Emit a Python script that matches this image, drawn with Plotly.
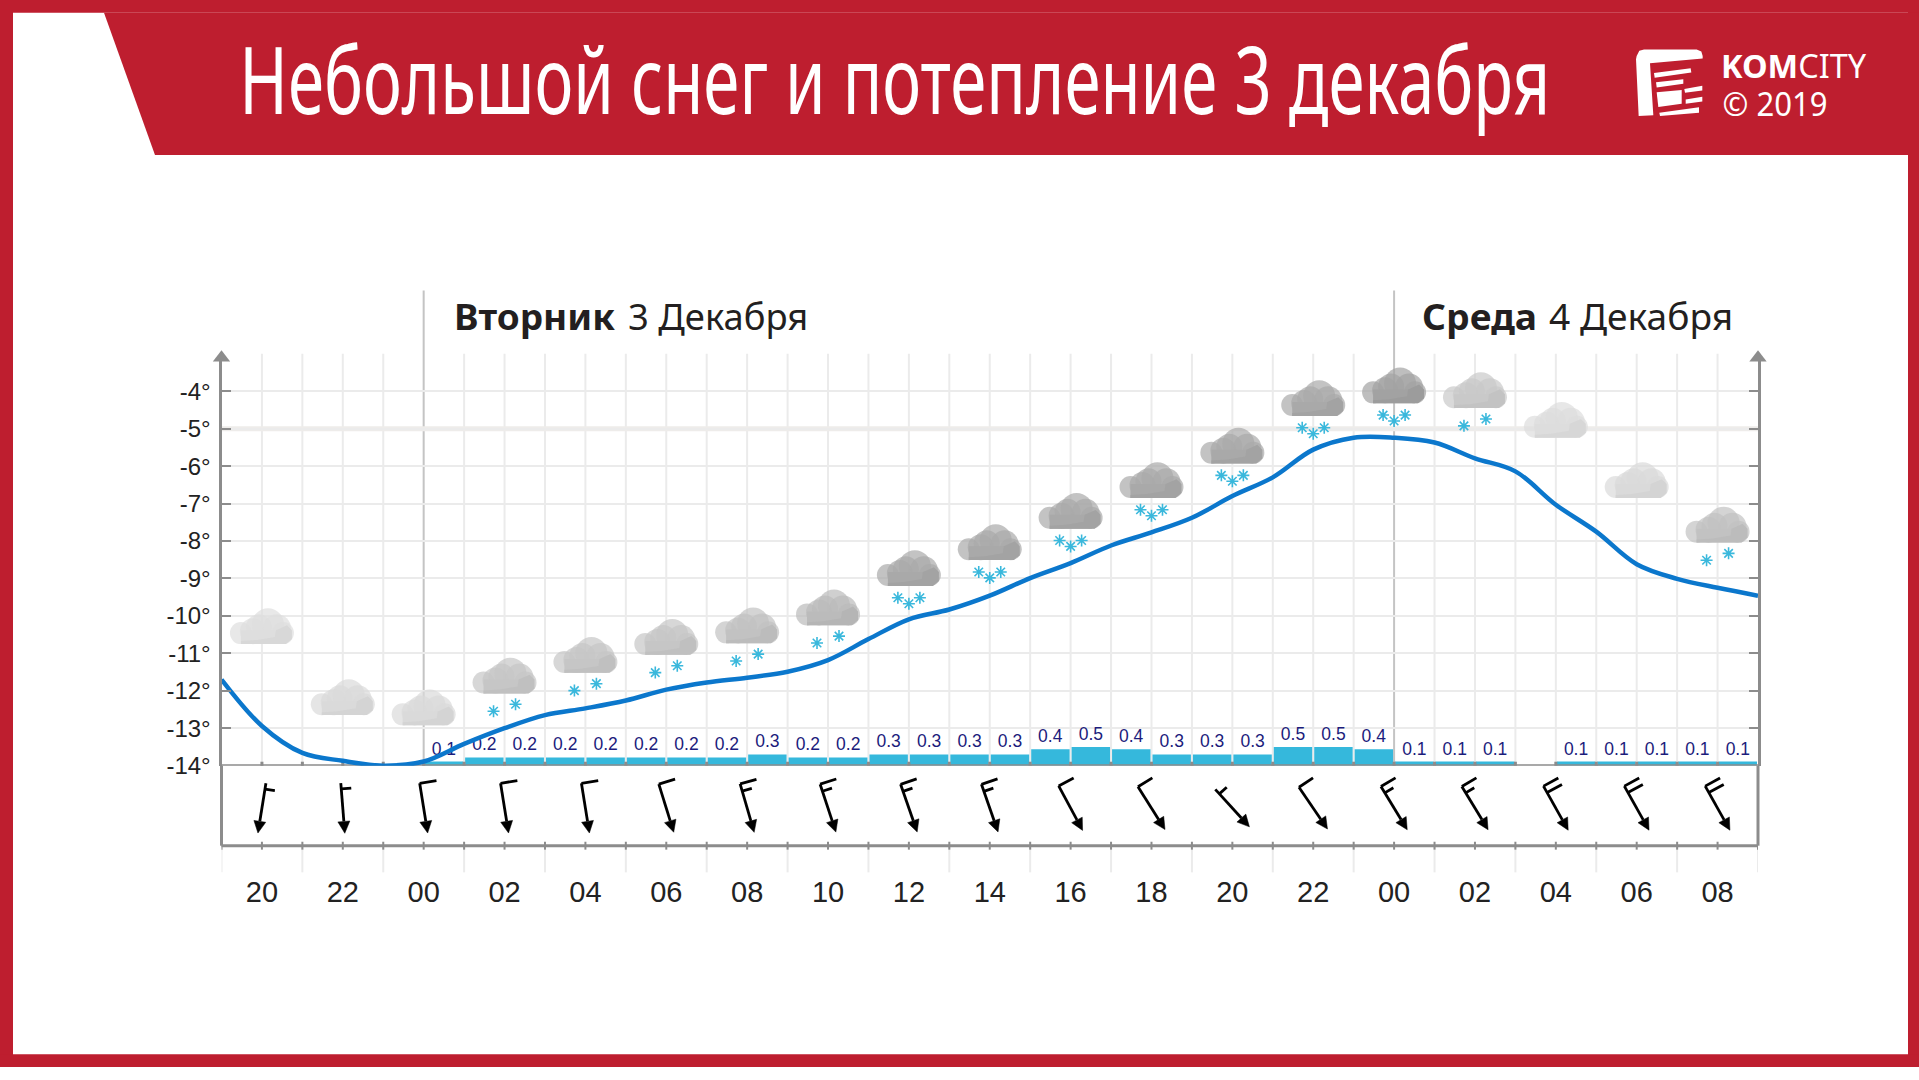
import json
import math
import plotly.graph_objects as go

W, H = 1919, 1080
RED = "#be1e2f"
AXIS = "#8c8c8c"
GRID = "#ebebeb"

# ---- data ----
temp_hours = list(range(19, 58))
temp_values = [-11.70, -12.94, -13.66, -13.87, -14.0, -13.89, -13.42, -13.0, -12.65, -12.47,
               -12.26, -11.97, -11.78, -11.65, -11.49, -11.18, -10.62, -10.09, -9.83, -9.46,
               -8.99, -8.59, -8.12, -7.77, -7.38, -6.80, -6.30, -5.56, -5.24, -5.24,
               -5.37, -5.79, -6.14, -7.03, -7.75, -8.62, -9.01, -9.25, -9.46]

precip_hours = [h + 0.5 for h in range(24, 57)]
precip_labels = ["0.1", "0.2", "0.2", "0.2", "0.2", "0.2", "0.2", "0.2", "0.3", "0.2", "0.2",
                 "0.3", "0.3", "0.3", "0.3", "0.4", "0.5", "0.4", "0.3", "0.3", "0.3",
                 "0.5", "0.5", "0.4", "0.1", "0.1", "0.1", "", "0.1", "0.1", "0.1", "0.1", "0.1"]
precip_bars = [0.11, 0.22, 0.22, 0.22, 0.22, 0.22, 0.22, 0.22, 0.30, 0.22, 0.22,
               0.30, 0.30, 0.30, 0.30, 0.44, 0.50, 0.44, 0.30, 0.30, 0.30,
               0.50, 0.50, 0.44, 0.11, 0.11, 0.11, 0, 0.11, 0.11, 0.11, 0.11, 0.11]

label_hours = list(range(20, 57, 2))
label_text = ["20", "22", "00", "02", "04", "06", "08", "10", "12", "14", "16", "18", "20", "22",
              "00", "02", "04", "06", "08"]
# level of each cloud's base on the temperature scale
cloud_base = [-10.75, -12.65, -12.92, -12.07, -11.52, -11.04, -10.73, -10.25, -9.20, -8.51, -7.67,
              -6.85, -5.93, -4.66, -4.32, -4.45, -5.24, -6.85, -8.04]
cloud_color = ["#dedede", "#dadada", "#dadada", "#c6c6c6", "#c6c6c6", "#c6c6c6", "#c2c2c2", "#bbbbbb",
               "#a9a9a9", "#a9a9a9", "#a9a9a9", "#a9a9a9", "#a9a9a9", "#a9a9a9", "#a2a2a2",
               "#c9c9c9", "#dddddd", "#dadada", "#c2c2c2"]
snow_count = [0, 0, 0, 2, 2, 2, 2, 2, 3, 3, 3, 3, 3, 3, 3, 2, 0, 0, 2]
wind_angle = [-9, 4.5, 9, 9, 9, 17, 16, 18, 19, 19, 28, 32, 42, 34, 31, 31, 29, 29, 29]
wind_long = [0, 0, 1, 1, 1, 1, 1, 1, 1, 1, 1, 1, 0, 1, 1, 1, 2, 2, 2]
wind_short = [1, 1, 0, 0, 0, 0, 1, 1, 1, 1, 0, 0, 1, 0, 1, 1, 0, 0, 0]
y_ticks = list(range(-14, -3))
y_tick_text = ["-14°", "-13°", "-12°", "-11°", "-10°", "-9°", "-8°", "-7°", "-6°", "-5°", "-4°"]

# ---- geometry ----
X0, X1 = 221.5, 1758.0
Y14, YTOP, YLOW = 775.0, 358.0, 856.0
PX_H = (X1 - X0) / 38
PX_D = 37.9
SPAN = (Y14 - YTOP) / PX_D


def px(x):
    return x / W


def py(y):
    return 1 - y / H


def poly(points):
    return "M" + " L".join(f"{px(x):.5f},{py(y):.5f}" for x, y in points) + " Z"


def rect(x0, y0, x1, y1, color):
    return dict(type="rect", xref="paper", yref="paper", x0=px(x0), x1=px(x1), y0=py(y0), y1=py(y1),
                fillcolor=color, line_width=0, layer="below")


shapes = [
    rect(0, 0, W, 13, RED), rect(0, 0, 13, H, RED), rect(1908, 0, W, H, RED), rect(0, 1067, W, H, RED),
    dict(type="path", xref="paper", yref="paper", layer="below", fillcolor=RED, line_width=0,
         path=poly([(104, 13), (W, 13), (W, 157), (155, 157)])),
]


def L(zx, zy):
    return (1630 + zx / 3, 40 + zy / 3)


logo_parts = [
    [L(20, 50), L(28, 34), L(42, 30), L(200, 30), L(214, 36), L(218, 50), L(218, 58), L(60, 72), L(70, 230),
     L(26, 232), L(18, 60)],
    [L(72, 102), L(182, 87), L(184, 100), L(74, 116)],
    [L(78, 130), L(160, 121), L(160, 134), L(80, 146)],
    [L(80, 160), L(155, 153), L(155, 195), L(85, 205)],
    [L(163, 150), L(217, 140), L(217, 155), L(165, 162)],
    [L(167, 182), L(217, 174), L(217, 188), L(167, 195)],
    [L(88, 222), L(207, 206), L(207, 222), L(90, 232)],
]
for part in logo_parts:
    shapes.append(dict(type="path", xref="paper", yref="paper", fillcolor="white", line_width=0, path=poly(part)))

# vertical grid, day separators, short ticks
for h in range(20, 57):
    if h not in (24, 48):
        shapes.append(dict(type="line", xref="x", yref="paper", x0=h, x1=h, y0=py(Y14), y1=py(YTOP),
                           line=dict(color=GRID, width=2), layer="below"))
for h in (24, 48):
    shapes.append(dict(type="line", xref="x", yref="paper", x0=h, x1=h, y0=py(Y14), y1=py(294),
                       line=dict(color="#c4c4c4", width=2), layer="below"))
for h in range(19, 58, 2):
    shapes.append(dict(type="line", xref="x", yref="paper", x0=h, x1=h, y0=py(YLOW), y1=py(883),
                       line=dict(color=GRID, width=2), layer="below"))
for h in range(19, 58):
    shapes.append(dict(type="line", xref="x", yref="paper", x0=h, x1=h, y0=py(YLOW - 4), y1=py(YLOW + 4),
                       line=dict(color=AXIS, width=2)))
shapes.append(dict(type="line", xref="paper", yref="y2", x0=px(X0), x1=px(X1), y0=-5, y1=-5,
                   line=dict(color="#eeecea", width=5), layer="below"))
shapes.append(dict(type="line", xref="paper", yref="paper", x0=px(X0), x1=px(X1), y0=py(YLOW), y1=py(YLOW),
                   line=dict(color=AXIS, width=3)))
for xx in (X0, X1):
    shapes.append(dict(type="line", xref="paper", yref="paper", x0=px(xx), x1=px(xx), y0=py(Y14), y1=py(YLOW),
                       line=dict(color=AXIS, width=3)))

fig = go.Figure()

# precipitation bars
fig.add_trace(go.Bar(x=precip_hours, y=precip_bars, width=0.95, marker=dict(color="#35b8dc", line_width=0),
                     text=precip_labels, textposition="outside", cliponaxis=False,
                     textfont=dict(family="Liberation Sans", size=17.5, color="#1c1c7c"), hoverinfo="skip",
                     yaxis="y", xaxis="x", showlegend=False))

# -14 axis line with ticks
ax_x, ax_y = [19, 57 + 6 / PX_H, None], [-14, -14, None]
for h in range(20, 57):
    ax_x += [h, h, None]
    ax_y += [-14 + 4 / PX_D, -14 - 4 / PX_D, None]
fig.add_trace(go.Scatter(x=ax_x, y=ax_y, mode="lines", line=dict(color=AXIS, width=3), yaxis="y2", xaxis="x",
                         cliponaxis=False, hoverinfo="skip", showlegend=False))

# top arrows of the y axes
fig.add_trace(go.Scatter(x=[19, 57], y=[-14 + (Y14 - 362) / PX_D] * 2, mode="markers", yaxis="y2", xaxis="x",
                         marker=dict(symbol="triangle-up", size=15, color=AXIS), cliponaxis=False,
                         hoverinfo="skip", showlegend=False))

# clouds, from circles and a base
LOBES = [(-21, 11, 22), (-9, 13, 26), (-3, 17, 26), (6, 20, 32), (15, 16, 28), (21, 11, 22)]
for h, base, col, n in zip(label_hours, cloud_base, cloud_color, snow_count):
    def cx(d):
        return h + d / PX_H

    def cy(d):
        return base + d / PX_D

    fig.add_trace(go.Scatter(x=[cx(d[0]) for d in LOBES], y=[cy(d[1]) for d in LOBES], mode="markers",
                             marker=dict(size=[d[2] for d in LOBES], color=col, line_width=0), yaxis="y2", xaxis="x",
                             cliponaxis=False, hoverinfo="skip", showlegend=False))
    fig.add_trace(go.Scatter(x=[cx(v) for v in (-21, 21, 21, -21, -21)], y=[cy(v) for v in (0, 0, 14, 14, 0)],
                             mode="lines", fill="toself", fillcolor=col, line=dict(width=0), yaxis="y2", xaxis="x",
                             hoverinfo="skip", showlegend=False))
    r, g, b = [int(col[i:i + 2], 16) - 6 for i in (1, 3, 5)]
    shade = f"rgb({r},{g},{b})"
    shade_pts = [(-21, 0), (24, 0), (30, 5), (30, 14), (25, 19), (14, 14), (13, 7), (-5, 4), (-21, 3)]
    fig.add_trace(go.Scatter(x=[cx(p[0]) for p in shade_pts] + [cx(-21)], y=[cy(p[1]) for p in shade_pts] + [cy(0)],
                             mode="lines", fill="toself", fillcolor=shade, line=dict(width=0), yaxis="y2", xaxis="x",
                             hoverinfo="skip", showlegend=False))
    if n == 2:
        sx, sy = [-11, 11], [-18, -11]
    elif n == 3:
        sx, sy = [-11, 0, 11], [-12, -18, -12]
    else:
        sx, sy = [], []
    if n:
        fig.add_trace(go.Scatter(x=[cx(v) for v in sx], y=[cy(v) for v in sy], mode="markers", yaxis="y2", xaxis="x",
                                 marker=dict(symbol="asterisk-open", size=10, color="#3ab8dc",
                                             line=dict(color="#3ab8dc", width=1.6)),
                                 cliponaxis=False, hoverinfo="skip", showlegend=False))

# temperature curve
fig.add_trace(go.Scatter(x=temp_hours, y=temp_values, mode="lines", yaxis="y2", xaxis="x", cliponaxis=False,
                         line=dict(color="#0b77cc", width=4.5, shape="spline", smoothing=1.0),
                         hoverinfo="skip", showlegend=False))

# wind arrows
line_x, line_y, head_x, head_y = [], [], [], []
MID = YLOW - 818
for h, a, nl, ns in zip(label_hours, wind_angle, wind_long, wind_short):
    ar = math.radians(a)
    sx, sy = math.sin(ar), -math.cos(ar)  # shaft direction in px, y up
    nx, ny = math.cos(ar), math.sin(ar)  # barb direction
    half = 25.5

    def wx(d):
        return h + d / PX_H

    tail = (-sx * half, MID - sy * half)
    tip = (sx * half, MID + sy * half)
    neck = (sx * (half - 12), MID + sy * (half - 12))
    line_x += [wx(tail[0]), wx(neck[0]), None]
    line_y += [tail[1], neck[1], None]
    off = 0.0 if nl else 6.0
    for i in range(nl + ns):
        size = 17 if i < nl else 10
        bx, by = tail[0] + sx * off, tail[1] + sy * off
        line_x += [wx(bx), wx(bx + nx * size), None]
        line_y += [by, by + ny * size, None]
        off += 7.5
    head_x += [wx(tip[0]), wx(neck[0] + nx * 6), wx(neck[0] - nx * 6), wx(tip[0]), None]
    head_y += [tip[1], neck[1] + ny * 6, neck[1] - ny * 6, tip[1], None]
fig.add_trace(go.Scatter(x=line_x, y=line_y, mode="lines", line=dict(color="black", width=2.8), yaxis="y3", xaxis="x",
                         hoverinfo="skip", showlegend=False, cliponaxis=False))
fig.add_trace(go.Scatter(x=head_x, y=head_y, mode="lines", fill="toself", fillcolor="black",
                         line=dict(color="black", width=0.5), yaxis="y3", xaxis="x",
                         hoverinfo="skip", showlegend=False, cliponaxis=False))


def note(text, cx_, cy_, size, family="Noto Sans", color="#231f20"):
    return dict(text=text, xref="paper", yref="paper", x=px(cx_), y=py(cy_), xanchor="center",
                yanchor="middle", showarrow=False, font=dict(family=family, size=size, color=color))


texts = {
    "Небольшой снег и потепление 3 декабря": ("Небольшой снег и потепление 3 декабря", 895, 79, 93, 1311, "white"),
    "Вторник": ("<b>Вторник</b>", 534, 320, 36, 161, "#231f20"),
    "3 Декабря": ("3 Декабря", 718, 320, 36, 180, "#231f20"),
    "Среда": ("<b>Среда</b>", 1479, 320, 36, 115, "#231f20"),
    "4 Декабря": ("4 Декабря", 1641, 320, 36, 184, "#231f20"),
    "KOMCITY": ("<b>KOM</b>CITY", 1794, 66, 32, 145, "white"),
    "© 2019": ("© 2019", 1775, 105, 32, 105, "white"),
}
annotations = [note(v[0], v[1], v[2], v[3], color=v[5]) for v in texts.values()]

fig.update_layout(
    width=W, height=H, margin=dict(l=0, r=0, t=0, b=0), paper_bgcolor="white", plot_bgcolor="rgba(0,0,0,0)",
    showlegend=False, barmode="overlay", shapes=shapes, annotations=annotations,
    xaxis=dict(domain=[px(X0), px(X1)], range=[19, 57], anchor="y3", tickmode="array", tickvals=label_hours,
               ticktext=label_text, showgrid=False, zeroline=False, ticks="", showline=False,
               ticklabelstandoff=26, tickfont=dict(family="Liberation Sans", size=29, color="#222222")),
    yaxis=dict(domain=[py(Y14), py(YTOP)], range=[0, SPAN], visible=False, showgrid=False, zeroline=False, anchor="x"),
    yaxis2=dict(domain=[py(Y14), py(YTOP)], range=[-14, -14 + SPAN], overlaying="y", side="left", anchor="x",
                tickmode="array", tickvals=y_ticks, ticktext=y_tick_text, showgrid=True, gridcolor=GRID, gridwidth=2,
                zeroline=False, showline=True, linecolor=AXIS, linewidth=3, mirror="ticks", ticks="inside",
                ticklen=9, tickwidth=2, tickcolor=AXIS, ticklabelstandoff=3,
                tickfont=dict(family="Liberation Sans", size=24, color="#222222")),
    yaxis3=dict(domain=[py(YLOW), py(Y14)], range=[0, YLOW - Y14], visible=False, anchor="x", showgrid=False,
                zeroline=False),
)

widths = {k: v[4] for k, v in texts.items()}
post = """
document.body.style.margin = '0';
var WIDTHS = %s;
var gd = document.querySelector('.plotly-graph-div');
function fit() {
  gd.querySelectorAll('.annotation-text').forEach(function (t) {
    var w = WIDTHS[t.textContent];
    if (!w) { return; }
    var natural = t.getComputedTextLength();
    if (!natural) { return; }
    var s = w / natural;
    var x = parseFloat(t.getAttribute('x')) || 0;
    t.setAttribute('transform', 'translate(' + (x * (1 - s)) + ',0) scale(' + s + ',1)');
  });
}
fit();
setTimeout(fit, 50);
if (gd.on) { gd.on('plotly_afterplot', fit); }
""" % json.dumps(widths, ensure_ascii=False)
fig.write_html("out.html", post_script=post, config={"displayModeBar": False})
